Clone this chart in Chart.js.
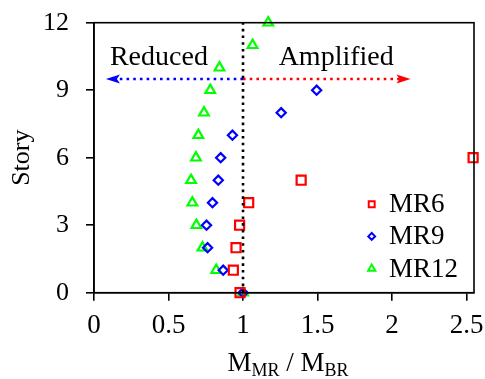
<!DOCTYPE html>
<html><head><meta charset="utf-8">
<script src="https://cdn.jsdelivr.net/npm/chart.js@4/dist/chart.umd.min.js"></script>
<style>html,body{margin:0;padding:0;background:#fff}#wrap{width:485px;height:379px;position:relative}</style>
</head><body><div id="wrap"><canvas id="c" width="485" height="379"></canvas></div>
<script>
// ---- data ----
const seriesNames = ['MR6', 'MR9', 'MR12'];
const storiesMR6 = [0, 1, 2, 3, 4, 5, 6];
const ratioMR6 = [0.98, 0.935, 0.953, 0.977, 1.038, 1.39, 2.544];
const storiesMR9 = [0, 1, 2, 3, 4, 5, 6, 7, 8, 9];
const ratioMR9 = [1.0, 0.867, 0.762, 0.755, 0.795, 0.834, 0.85, 0.929, 1.256, 1.494];
const storiesMR12 = [0, 1, 2, 3, 4, 5, 6, 7, 8, 9, 10, 11, 12];
const ratioMR12 = [1.0, 0.82, 0.728, 0.687, 0.66, 0.651, 0.684, 0.70, 0.738, 0.78, 0.842, 1.064, 1.169];
const xTickValues = [0, 0.5, 1, 1.5, 2, 2.5];
const yTickValues = [0, 3, 6, 9, 12];
const referenceRatio = 1;           // vertical dotted line
const referenceStories = [0, 12];
const arrowStory = 9.5;
const arrowReducedEnd = 0.08;
const arrowAmplifiedEnd = 2.124;
const regionLabels = ['Reduced', 'Amplified'];
const regionLabelX = [0.107, 1.239];
const regionLabelStory = 10.12;
const xTitleParts = [['M', false], ['MR', true], [' / M', false], ['BR', true]];
const yTitle = 'Story';

const SERIF = "'Liberation Serif', 'Times New Roman', serif";
const colors = ['#ff0000', '#0000ff', '#00ff00'];
const styles = ['rect', 'rectRot', 'triangle'];
const radii = [6.4, 4.6, 5.6];
const legendRadii = [4.2, 3.4, 4.2];

function pts(xs, ys) { return xs.map((v, i) => ({x: v, y: ys[i]})); }

const seriesX = [ratioMR6, ratioMR9, ratioMR12];
const seriesY = [storiesMR6, storiesMR9, storiesMR12];

const datasets = [
  {type: 'line', data: referenceStories.map(s => ({x: referenceRatio, y: s})), borderColor: '#000',
   borderWidth: 2.6, borderDash: [2.6, 4.1], pointRadius: 0, fill: false, clip: false},
  {type: 'line', data: [{x: referenceRatio, y: arrowStory}, {x: arrowReducedEnd + 0.05, y: arrowStory}], borderColor: '#0000ff',
   borderWidth: 2.6, borderDash: [2.6, 4.1], pointRadius: 0, fill: false},
  {type: 'line', data: [{x: referenceRatio, y: arrowStory}, {x: arrowAmplifiedEnd - 0.05, y: arrowStory}], borderColor: '#ff0000',
   borderWidth: 2.6, borderDash: [2.6, 4.1], pointRadius: 0, fill: false},
];
seriesNames.forEach((n, i) => {
  datasets.push({type: 'scatter', label: n, data: pts(seriesX[i], seriesY[i]),
    pointStyle: styles[i], pointRadius: radii[i], pointHoverRadius: radii[i],
    borderColor: colors[i], pointBorderColor: colors[i], pointBackgroundColor: 'rgba(0,0,0,0)',
    pointBorderWidth: 2.2, showLine: false, clip: false});
});

const overlay = {
  id: 'overlay',
  afterDraw(chart) {
    const ctx = chart.ctx, xs = chart.scales.x, ys = chart.scales.y, a = chart.chartArea;
    ctx.save();
    // box
    ctx.strokeStyle = '#000'; ctx.lineWidth = 1.6;
    ctx.strokeRect(a.left, a.top, a.right - a.left, a.bottom - a.top);
    // arrowheads
    const yA = ys.getPixelForValue(arrowStory);
    const drawHead = (tipVal, dir, col) => {
      const tx = xs.getPixelForValue(tipVal);
      ctx.fillStyle = col; ctx.beginPath();
      ctx.moveTo(tx, yA); ctx.lineTo(tx - dir * 14, yA - 4.5); ctx.lineTo(tx - dir * 11, yA); ctx.lineTo(tx - dir * 14, yA + 4.5);
      ctx.closePath(); ctx.fill();
    };
    drawHead(arrowReducedEnd, -1, '#0000ff');
    drawHead(arrowAmplifiedEnd, 1, '#ff0000');
    // region labels
    ctx.fillStyle = '#000'; ctx.font = '28px ' + SERIF; ctx.textBaseline = 'alphabetic'; ctx.textAlign = 'left';
    regionLabels.forEach((t, i) => ctx.fillText(t, xs.getPixelForValue(regionLabelX[i]), ys.getPixelForValue(regionLabelStory)));
    // legend
    ctx.textBaseline = 'middle'; ctx.font = '27px ' + SERIF;
    seriesNames.forEach((n, i) => {
      const cy = a.bottom - 88.5 + i * 32.2;
      ctx.strokeStyle = colors[i]; ctx.fillStyle = 'rgba(0,0,0,0)'; ctx.lineWidth = 2;
      Chart.helpers.drawPoint(ctx, {pointStyle: styles[i], radius: legendRadii[i], rotation: 0, borderWidth: 2}, a.right - 102.3, cy);
      ctx.fillStyle = '#000';
      ctx.fillText(n, a.right - 85, cy + 1);
    });
    // x title with subscripts
    const big = '27px ' + SERIF, small = '18px ' + SERIF;
    let w = 0;
    xTitleParts.forEach(([t, sub]) => { ctx.font = sub ? small : big; w += ctx.measureText(t).width; });
    let x = (a.left + a.right) / 2 + 4 - w / 2;
    const base = 371;
    ctx.textBaseline = 'alphabetic'; ctx.fillStyle = '#000';
    xTitleParts.forEach(([t, sub]) => {
      ctx.font = sub ? small : big;
      ctx.fillText(t, x, sub ? base + 5 : base);
      x += ctx.measureText(t).width;
    });
    ctx.restore();
  }
};

new Chart(document.getElementById('c'), {
  data: {datasets},
  options: {
    responsive: false, animation: false, devicePixelRatio: 1,
    layout: {padding: {top: 22.7, right: 11, left: 0, bottom: 0}},
    plugins: {legend: {display: false}, tooltip: {enabled: false}},
    scales: {
      x: {type: 'linear', min: 0, max: 2.55,
        afterFit(s) { s.height = 379 - 292.7; s.paddingLeft = 0; s.paddingRight = 0; },
        afterBuildTicks(s) { s.ticks = xTickValues.map(v => ({value: v})); },
        grid: {drawOnChartArea: false, drawTicks: true, tickLength: 8, color: '#000', lineWidth: 1.6},
        border: {display: true, color: '#000', width: 1.6},
        ticks: {color: '#000', font: {family: SERIF, size: 27}, padding: 9, maxRotation: 0,
          callback: v => String(v)},
        title: {display: false}},
      y: {type: 'linear', min: 0, max: 12,
        afterFit(s) { s.width = 94; s.paddingTop = 0; s.paddingBottom = 0; },
        afterBuildTicks(s) { s.ticks = yTickValues.map(v => ({value: v})); },
        grid: {drawOnChartArea: false, drawTicks: true, tickLength: 8, color: '#000', lineWidth: 1.6},
        border: {display: true, color: '#000', width: 1.6},
        ticks: {color: '#000', font: {family: SERIF, size: 26}, padding: 17},
        title: {display: true, text: yTitle, color: '#000', font: {family: SERIF, size: 26, lineHeight: 1}, padding: {top: 9, bottom: 0}}}
    }
  },
  plugins: [overlay]
});
</script></body></html>
